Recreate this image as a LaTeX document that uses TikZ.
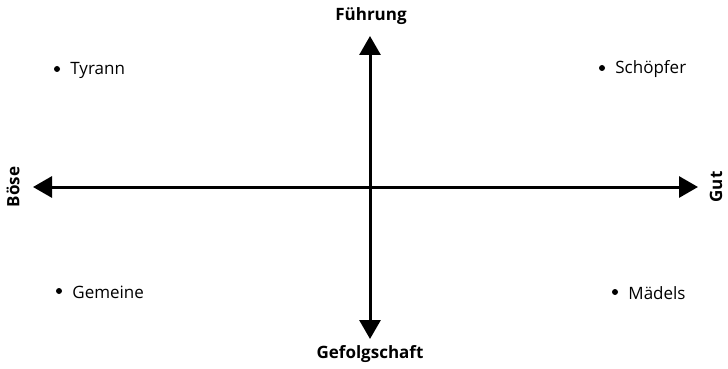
\documentclass[tikz,border=0pt]{standalone}
\usepackage{fontspec}
\setmainfont{Open Sans}
\usetikzlibrary{arrows.meta,positioning}

\tikzset{
  achse/.style={line width=3pt,{Triangle[length=19pt,width=21pt]}-{Triangle[length=19pt,width=21pt]}},
  pol/.style={font=\fontsize{17}{20}\selectfont\bfseries,inner sep=0pt},
  punkt/.style={circle,fill,inner sep=0pt,minimum size=6pt},
  typ/.style={font=\fontsize{17}{20}\selectfont,inner sep=0pt,yshift=-1.5pt}
}

\begin{document}
\begin{tikzpicture}[x=1pt,y=-1pt]
  \useasboundingbox (0,0) rectangle (728,369);

  % Achsen
  \coordinate (links) at (33,187);
  \coordinate (rechts) at (698,187);
  \coordinate (oben) at (370,36);
  \coordinate (unten) at (370,339);
  \draw[achse] (links) -- (rechts);
  \draw[achse] (unten) -- (oben);

  % Pole
  \node[pol] (fuehrung) at (371,16) {Führung};
  \node[pol] (gefolgschaft) at (370,354) {Gefolgschaft};
  \node[pol,rotate=90] (boese) at (13,187) {Böse};
  \node[pol,rotate=90] (gut) at (716,187) {Gut};

  % Typen
  \node[punkt] (p1) at (57,69) {};
  \node[typ,right=10pt of p1] (tyrann) {Tyrann};
  \node[punkt] (p2) at (602,68) {};
  \node[typ,right=10pt of p2] (schoepfer) {Schöpfer};
  \node[punkt] (p3) at (59,291) {};
  \node[typ,right=10pt of p3] (gemeine) {Gemeine};
  \node[punkt] (p4) at (615,292) {};
  \node[typ,right=10pt of p4] (maedels) {Mädels};
\end{tikzpicture}
\end{document}
